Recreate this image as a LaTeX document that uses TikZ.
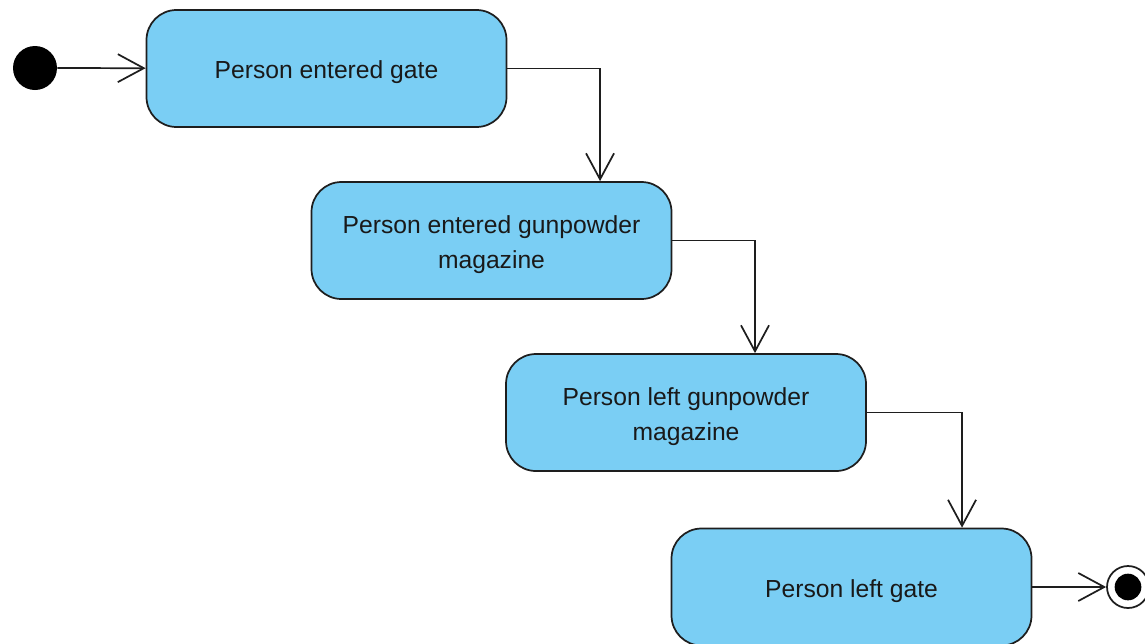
\documentclass[tikz,border=0pt]{standalone}
\usepackage{fontspec}
\setmainfont{Liberation Sans}
\usetikzlibrary{arrows.meta}
\definecolor{boxfill}{RGB}{122,206,244}
\definecolor{boxline}{RGB}{30,30,30}
\begin{document}
\begin{tikzpicture}[x=0.75pt,y=-0.75pt,
  statebox/.style={draw=boxline, fill=boxfill, line width=1.3pt, rounded corners=22.5pt,
    minimum width=270pt, minimum height=87.75pt, inner sep=0pt},
  statetext/.style={align=center, inner sep=0pt, text=black!90,
    font=\fontsize{18.5pt}{26pt}\selectfont},
  conn/.style={draw=boxline, line width=1.3pt,
    -{Straight Barb[length=19.5pt, width=21pt, line width=1.3pt]}}
  ]
\useasboundingbox (0,0) rectangle (1145,643);
\node[circle, fill=black, minimum size=33pt, inner sep=0pt] (start) at (35,68) {};
\node[statebox] (b1) at (326.5,68.5) {};
\node[statebox] (b2) at (491.5,240.5) {};
\node[statebox] (b3) at (686,412.5) {};
\node[statebox] (b4) at (851.5,587) {};
\node[statetext] (t1) at ([yshift=-3pt]b1.center) {Person entered gate};
\node[statetext] (t2) at ([yshift=-3pt]b2.center) {Person entered gunpowder\\magazine};
\node[statetext] (t3) at ([yshift=-3pt]b3.center) {Person left gunpowder\\magazine};
\node[statetext] (t4) at ([yshift=-3pt]b4.center) {Person left gate};
\node[circle, draw=boxline, fill=white, line width=1.3pt, minimum size=31.5pt, inner sep=0pt] (endo) at (1128,587) {};
\node[circle, fill=black, minimum size=20pt, inner sep=0pt] (endi) at (endo.center) {};
\draw[conn] (start) -- (b1);
\draw[conn] (b1.east) -| ([xshift=81.4pt]b2.north);
\draw[conn] (b2.east) -| ([xshift=51.75pt]b3.north);
\draw[conn] (b3.east) -| ([xshift=82.9pt]b4.north);
\draw[conn] (b4.east) -- (endo.west);
\end{tikzpicture}
\end{document}
